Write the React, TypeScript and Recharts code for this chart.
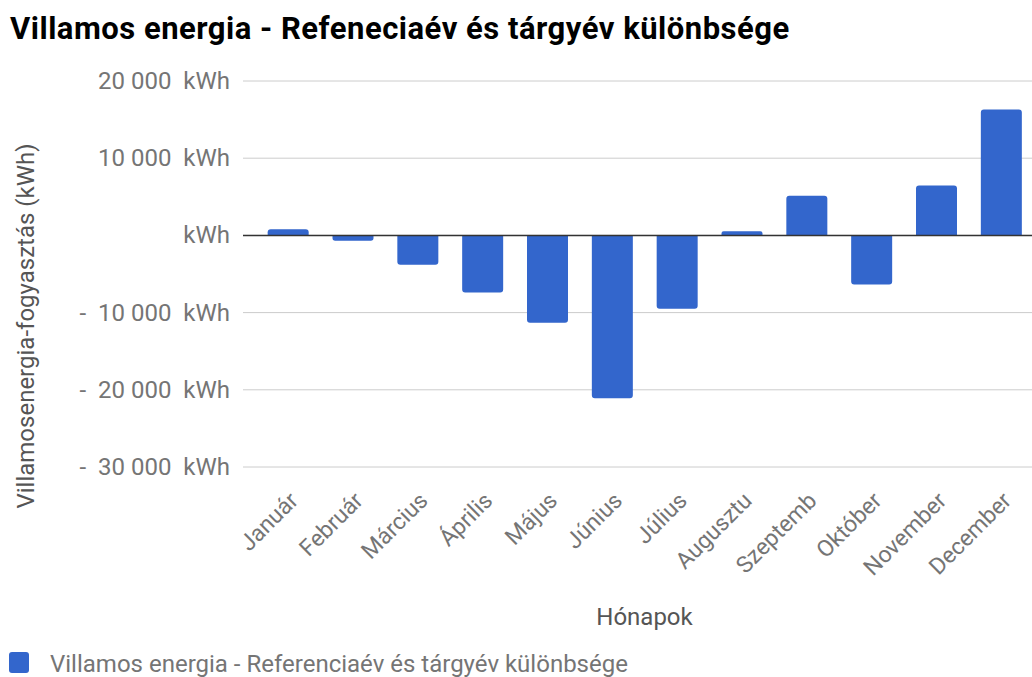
import { Bar, BarChart, CartesianGrid, Label, Legend, ReferenceLine, XAxis, YAxis } from "recharts";

const months = [
  "Január",
  "Február",
  "Március",
  "Április",
  "Május",
  "Június",
  "Július",
  "Augusztu",
  "Szeptemb",
  "Október",
  "November",
  "December",
];
const diffKwh = [800, -700, -3800, -7400, -11300, -21100, -9500, 550, 5150, -6350, 6450, 16300];
const yTicks = [-30000, -20000, -10000, 0, 10000, 20000];

const seriesName = "Villamos energia - Referenciaév és tárgyév különbsége";
const chartTitle = "Villamos energia - Refeneciaév és tárgyév különbsége";

const data = months.map((month, i) => ({ month, diff: diffKwh[i] }));

const FONT = "Roboto, 'Noto Sans', Arial, sans-serif";
const BLUE = "#3366cc";

function formatKwh(v: number) {
  if (v === 0) return "kWh";
  const digits = String(Math.abs(v)).replace(/\B(?=(\d{3})+(?!\d))/g, " ");
  return (v < 0 ? "-  " : "") + digits + "  kWh";
}

function YTick({ x, y, payload }: any) {
  return (
    <text
      x={x}
      y={y}
      dy={8}
      textAnchor="end"
      fill="#757575"
      fontSize={24}
      fontFamily={FONT}
      style={{ whiteSpace: "pre" }}
    >
      {formatKwh(payload.value)}
    </text>
  );
}

function XTick({ x, y, payload }: any) {
  const ax = x + 11;
  const ay = y + 27;
  return (
    <text
      x={ax}
      y={ay}
      textAnchor="end"
      fill="#757575"
      fontSize={23}
      fontFamily={FONT}
      transform={`rotate(-45, ${ax}, ${ay})`}
    >
      {payload.value}
    </text>
  );
}

function LegendContent() {
  return (
    <div style={{ display: "flex", alignItems: "center", height: 30, fontFamily: FONT }}>
      <span
        style={{
          display: "inline-block",
          width: 20,
          height: 21,
          borderRadius: 3,
          background: BLUE,
          marginLeft: 9,
          marginRight: 21,
        }}
      />
      <span style={{ fontSize: 24, color: "#757575", whiteSpace: "nowrap", marginTop: 3 }}>
        {seriesName}
      </span>
    </div>
  );
}

export default function App() {
  return (
    <div
      style={{
        position: "absolute",
        left: 0,
        top: 0,
        width: 1032,
        height: 677,
        overflow: "hidden",
        background: "#fff",
        fontFamily: FONT,
      }}
    >
      <div
        style={{
          position: "absolute",
          left: 10,
          top: 12,
          fontSize: 31,
          letterSpacing: 0.5,
          fontWeight: 700,
          color: "#000",
          whiteSpace: "nowrap",
          lineHeight: "34px",
        }}
      >
        {chartTitle}
      </div>
      <BarChart
        width={1040}
        height={677}
        data={data}
        margin={{ top: 81, right: 6, bottom: 0, left: 0 }}
        barCategoryGap="18%"
      >
        <CartesianGrid vertical={false} stroke="#cccccc" />
        <XAxis
          dataKey="month"
          interval={0}
          height={180}
          axisLine={false}
          tickLine={false}
          tick={<XTick />}
          padding={{ left: 13, right: 0 }}
        >
          <Label
            value="Hónapok"
            position="insideBottom"
            offset={22}
            dx={6}
            fill="#555"
            fontSize={24}
            fontFamily={FONT}
          />
        </XAxis>
        <YAxis
          width={243}
          domain={[-30000, 20000]}
          ticks={yTicks}
          interval={0}
          axisLine={false}
          tickLine={false}
          tickSize={0}
          tickMargin={13}
          tick={<YTick />}
        >
          <Label
            content={({ viewBox }: any) => {
              const cx = 34;
              const cy = viewBox.y + viewBox.height / 2 + 52;
              return (
                <text
                  x={cx}
                  y={cy}
                  textAnchor="middle"
                  fill="#555"
                  fontSize={24}
                  fontFamily={FONT}
                  transform={`rotate(-90, ${cx}, ${cy})`}
                >
                  Villamosenergia-fogyasztás (kWh)
                </text>
              );
            }}
          />
        </YAxis>
        <Legend verticalAlign="bottom" align="left" content={<LegendContent />} />
        <Bar
          dataKey="diff"
          name={seriesName}
          fill={BLUE}
          radius={[3, 3, 0, 0]}
          isAnimationActive={false}
        />
        <ReferenceLine y={0} stroke="#333333" strokeWidth={1.5} />
      </BarChart>
    </div>
  );
}
